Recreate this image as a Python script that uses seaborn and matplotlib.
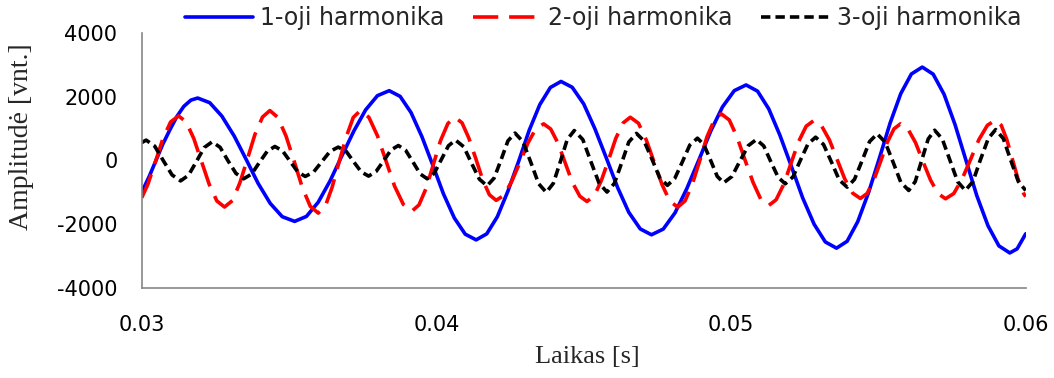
import matplotlib
matplotlib.use("Agg")
import matplotlib.pyplot as plt
import seaborn as sns

# ---------------- data ----------------
t_h1 = [0.03000, 0.03026, 0.03049, 0.03072, 0.03097, 0.03120, 0.03143, 0.03167, 0.03190,
        0.03231, 0.03272, 0.03314, 0.03355, 0.03395, 0.03436, 0.03477, 0.03519,
        0.03559, 0.03599, 0.03639, 0.03679, 0.03720, 0.03760, 0.03800, 0.03840,
        0.03877, 0.03914, 0.03951, 0.03988, 0.04024, 0.04061, 0.04098, 0.04135,
        0.04171, 0.04207, 0.04243, 0.04280, 0.04315, 0.04351, 0.04387, 0.04423,
        0.04461, 0.04500, 0.04538, 0.04577, 0.04615, 0.04653, 0.04692, 0.04730,
        0.04770, 0.04810, 0.04850, 0.04891, 0.04931, 0.04971, 0.05011, 0.05051,
        0.05090, 0.05128, 0.05166, 0.05205, 0.05243, 0.05282, 0.05320, 0.05358,
        0.05394, 0.05430, 0.05467, 0.05504, 0.05540, 0.05576, 0.05612, 0.05649,
        0.05686, 0.05723, 0.05760, 0.05797, 0.05834, 0.05872, 0.05909, 0.05946,
        0.05971, 0.06000]
v_h1 = [-1000, -489, 15, 519, 988, 1390, 1699, 1894, 1960,
        1813, 1393, 766, 25, -716, -1343, -1763, -1910,
        -1754, -1309, -645, 140, 925, 1589, 2034, 2190,
        2012, 1504, 746, -150, -1046, -1804, -2312, -2490,
        -2301, -1762, -957, -5, 947, 1752, 2291, 2480,
        2297, 1775, 996, 75, -846, -1625, -2147, -2330,
        -2151, -1641, -880, 20, 920, 1681, 2191, 2370,
        2175, 1620, 790, -190, -1170, -2000, -2555, -2750,
        -2534, -1918, -998, 90, 1178, 2098, 2714, 2930,
        2708, 2076, 1131, 15, -1101, -2046, -2678, -2900,
        -2770, -2300]

t_h2 = [0.03000, 0.03021, 0.03047, 0.03072, 0.03098, 0.03125,
        0.03151, 0.03177, 0.03203, 0.03229, 0.03255, 0.03281,
        0.03308, 0.03333, 0.03359, 0.03384, 0.03410, 0.03435,
        0.03462, 0.03490, 0.03518, 0.03545, 0.03572, 0.03599,
        0.03623, 0.03646, 0.03670, 0.03695, 0.03718, 0.03742,
        0.03771, 0.03800, 0.03829, 0.03858, 0.03888, 0.03917,
        0.03941, 0.03966, 0.03990, 0.04014, 0.04039, 0.04063,
        0.04087, 0.04110, 0.04134, 0.04157, 0.04180, 0.04203,
        0.04230, 0.04256, 0.04284, 0.04311, 0.04337, 0.04364,
        0.04388, 0.04413, 0.04437, 0.04461, 0.04487, 0.04511,
        0.04536, 0.04560, 0.04585, 0.04609, 0.04634, 0.04658,
        0.04686, 0.04712, 0.04739, 0.04766, 0.04792, 0.04819,
        0.04844, 0.04869, 0.04894, 0.04918, 0.04943, 0.04967,
        0.04994, 0.05020, 0.05047, 0.05075, 0.05101, 0.05128,
        0.05153, 0.05179, 0.05204, 0.05229, 0.05255, 0.05281,
        0.05307, 0.05334, 0.05360, 0.05386, 0.05413, 0.05439,
        0.05462, 0.05485, 0.05508, 0.05530, 0.05553, 0.05575,
        0.05600, 0.05626, 0.05651, 0.05677, 0.05703, 0.05728,
        0.05756, 0.05784, 0.05813, 0.05841, 0.05870, 0.05898,
        0.05917, 0.05936, 0.05955, 0.05974, 0.05993, 0.06000]
v_h2 = [-1170, -745, -30, 685, 1208, 1400,
        1208, 685, -30, -745, -1268, -1460,
        -1257, -704, 53, 810, 1363, 1567,
        1351, 762, -42, -846, -1435, -1650,
        -1435, -846, -42, 762, 1351, 1567,
        1355, 777, -12, -801, -1379, -1590,
        -1394, -854, -117, 620, 1160, 1357,
        1183, 706, 54, -598, -1075, -1250,
        -1089, -650, -50, 550, 989, 1150,
        987, 541, -68, -677, -1123, -1285,
        -1108, -625, 36, 697, 1180, 1357,
        1168, 652, -53, -758, -1274, -1463,
        -1267, -732, 0, 732, 1267, 1463,
        1271, 746, 27, -692, -1217, -1410,
        -1232, -744, -78, 588, 1076, 1254,
        1090, 643, 32, -579, -1026, -1190,
        -1033, -605, -20, 565, 993, 1150,
        993, 563, -25, -613, -1043, -1200,
        -1035, -583, 35, 653, 1105, 1270,
        1105, 653, 35, -583, -1035, -1133]

t_h3 = [0.03000, 0.03015,
        0.03044, 0.03073, 0.03103, 0.03132,
        0.03159, 0.03186, 0.03212, 0.03239,
        0.03266, 0.03292, 0.03320, 0.03346,
        0.03373, 0.03399, 0.03426, 0.03452,
        0.03478, 0.03504, 0.03530, 0.03555,
        0.03583, 0.03611, 0.03639, 0.03667,
        0.03694, 0.03719, 0.03745, 0.03770,
        0.03795, 0.03821, 0.03846, 0.03871,
        0.03896, 0.03921, 0.03945, 0.03969,
        0.03993, 0.04017, 0.04041, 0.04065,
        0.04093, 0.04119, 0.04146, 0.04172,
        0.04196, 0.04220, 0.04243, 0.04267,
        0.04294, 0.04321, 0.04347, 0.04373,
        0.04397, 0.04421, 0.04444, 0.04468,
        0.04497, 0.04524, 0.04552, 0.04579,
        0.04604, 0.04629, 0.04653, 0.04679,
        0.04705, 0.04732, 0.04758, 0.04784,
        0.04809, 0.04835, 0.04860, 0.04886,
        0.04908, 0.04931, 0.04953, 0.04975,
        0.05003, 0.05030, 0.05058, 0.05086,
        0.05111, 0.05135, 0.05160, 0.05184,
        0.05210, 0.05235, 0.05261, 0.05287,
        0.05314, 0.05341, 0.05367, 0.05394,
        0.05419, 0.05445, 0.05470, 0.05496,
        0.05523, 0.05550, 0.05576, 0.05603,
        0.05625, 0.05647, 0.05669, 0.05691,
        0.05717, 0.05743, 0.05769, 0.05795,
        0.05821, 0.05846, 0.05873, 0.05898,
        0.05924, 0.05949, 0.05975, 0.06000]
v_h3 = [560, 640,
        452, 0, -452, -640,
        -461, -28, 405, 585,
        415, 5, -405, -574,
        -425, -67, 291, 440,
        302, -30, -362, -500,
        -365, -40, 285, 420,
        287, -35, -357, -490,
        -349, -10, 329, 470,
        317, -52, -421, -574,
        -396, 33, 462, 640,
        430, -78, -586, -795,
        -552, 33, 618, 860,
        588, -70, -728, -1000,
        -716, -30, 656, 940,
        657, -25, -707, -990,
        -720, -70, 580, 850,
        611, 35, -541, -780,
        -563, -40, 483, 700,
        495, 0, -495, -700,
        -501, -20, 461, 660,
        456, -36, -528, -731,
        -517, 0, 517, 731,
        501, -53, -607, -836,
        -591, 0, 591, 836,
        576, -52, -680, -940,
        -663, 5, 673, 950,
        673, 5, -663, -940,
        -660, 15, 690, 970,
        690, 15, -660, -940]

series_labels = ["1-oji harmonika", "2-oji harmonika", "3-oji harmonika"]
x_ticks = [0.03, 0.04, 0.05, 0.06]
x_tick_labels = ["0.03", "0.04", "0.05", "0.06"]
y_ticks = [-4000, -2000, 0, 2000, 4000]
y_tick_labels = ["-4000", "-2000", "0", "2000", "4000"]
x_title = "Laikas [s]"
y_title = "Amplitudė [vnt.]"

# ---------------- styling ----------------
sns.set_theme(style="white")
plt.rcParams["font.family"] = ["DejaVu Sans"]
plt.rcParams["axes.unicode_minus"] = False

W, H = 1054, 378
fig = plt.figure(figsize=(W / 100, H / 100), dpi=100)
ax = fig.add_axes([141.7 / W, 1 - 288 / H, 884 / W, 255 / H])

lw = 2.6
sns.lineplot(x=t_h1, y=v_h1, ax=ax, color="#0000FF", linewidth=lw,
             sort=False, estimator=None, label=series_labels[0])
sns.lineplot(x=t_h2, y=v_h2, ax=ax, color="#FF0000", linewidth=lw,
             sort=False, estimator=None, label=series_labels[1],
             linestyle=(0, (7, 3)))
sns.lineplot(x=t_h3, y=v_h3, ax=ax, color="#000000", linewidth=lw,
             sort=False, estimator=None, label=series_labels[2],
             linestyle=(0, (2.6, 1.4)))

ax.set_xlim(0.03, 0.06)
ax.set_ylim(-4000, 4000)
ax.set_xticks(x_ticks)
ax.set_xticklabels(x_tick_labels)
ax.set_yticks(y_ticks)
ax.set_yticklabels(y_tick_labels)

tick_color = "#868686"
for side in ["top", "right"]:
    ax.spines[side].set_visible(False)
for side in ["left", "bottom"]:
    ax.spines[side].set_color(tick_color)
    ax.spines[side].set_linewidth(1.2)
ax.tick_params(axis="both", direction="out", length=4.5, width=1.2,
               color=tick_color, labelsize=15, labelcolor="#000000")
ax.tick_params(axis="y", pad=13)
ax.tick_params(axis="x", pad=15)
ax.grid(False)

ax.set_xlabel(x_title, family="Liberation Serif", fontsize=19, va="center")
ax.set_ylabel(y_title, family="Liberation Serif", fontsize=20, va="center")
ax.xaxis.set_label_coords((587 - 141.7) / 884, (288 - 357) / 255)
ax.yaxis.set_label_coords((22 - 141.7) / 884, (288 - 136.5) / 255)

handles, labels = ax.get_legend_handles_labels()
ax.get_legend().remove()
fig.legend(handles, labels, loc="center", ncol=3,
           bbox_to_anchor=(603 / W, 1 - 18 / H), frameon=False,
           fontsize=17, handlelength=2.9, handletextpad=0.3,
           columnspacing=1.2, borderaxespad=0, borderpad=0)

fig.savefig("out.png", dpi=100)
